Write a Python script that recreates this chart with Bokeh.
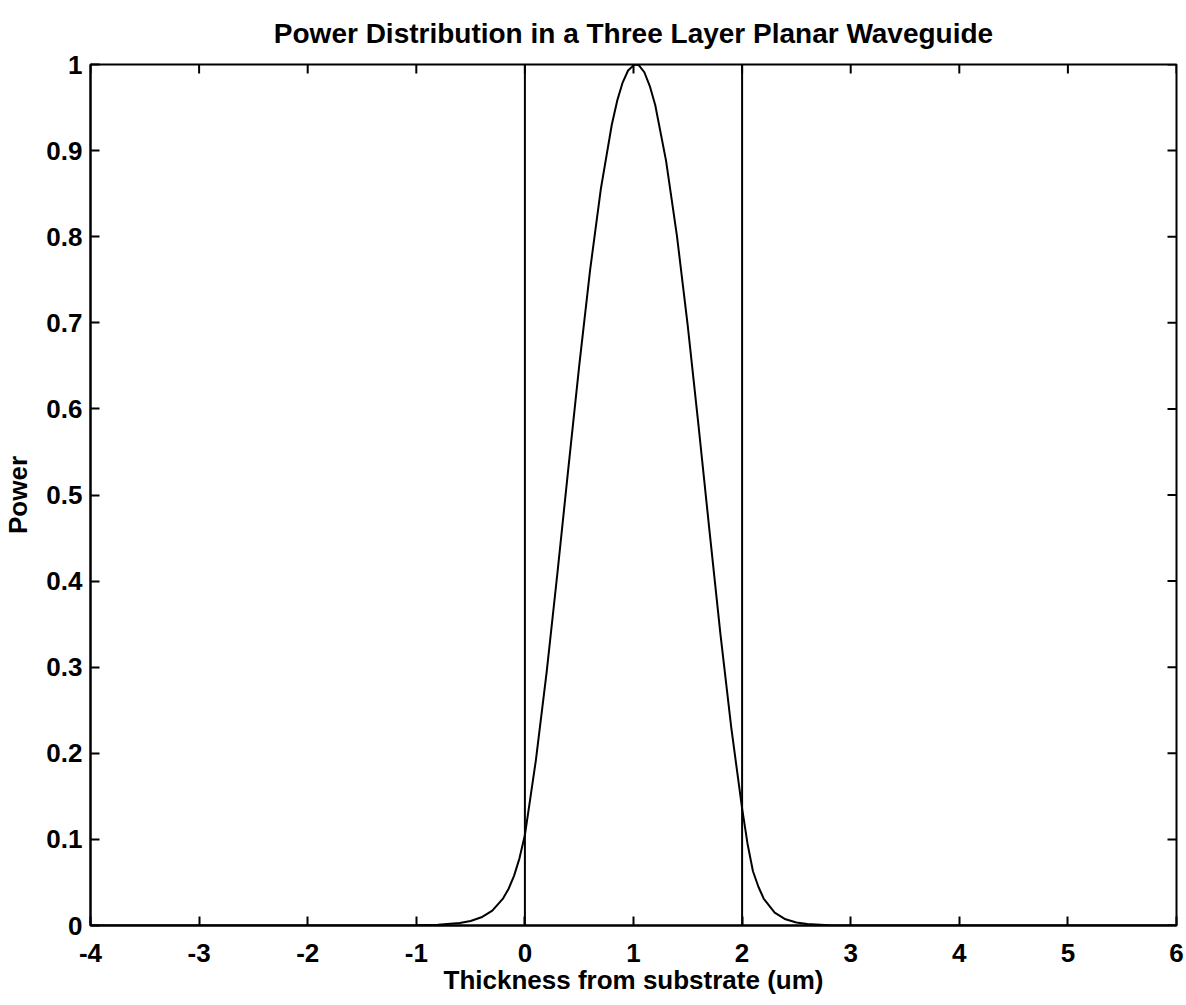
from bokeh.plotting import figure
from bokeh.models import FixedTicker, Range1d
from bokeh.embed import file_html
from bokeh.resources import INLINE
import math

# Data
thickness = [-4.0, -3.0, -2.0, -1.5, -1.0, -0.8, -0.6, -0.5, -0.4, -0.3, -0.2, -0.15, -0.1, -0.05,
             0.0, 0.1, 0.2, 0.3, 0.4, 0.5, 0.6, 0.7, 0.8, 0.85, 0.9, 0.95, 1.0, 1.02, 1.05, 1.1, 1.15,
             1.2, 1.3, 1.4, 1.5, 1.6, 1.7, 1.8, 1.9, 2.0, 2.05, 2.1, 2.15, 2.2, 2.3, 2.4, 2.5, 2.6,
             2.8, 3.0, 3.5, 4.0, 5.0, 6.0]
power = [0.0, 0.0, 0.0, 0.0, 0.0003, 0.0009, 0.0029, 0.0052, 0.0095, 0.0173, 0.0316, 0.0427, 0.0576, 0.078,
         0.105, 0.191, 0.294, 0.410, 0.531, 0.650, 0.761, 0.856, 0.930, 0.958, 0.979, 0.993, 0.999, 1.0, 0.999,
         0.991, 0.975, 0.953, 0.888, 0.801, 0.696, 0.579, 0.458, 0.339, 0.230, 0.136, 0.095, 0.063, 0.045,
         0.031, 0.015, 0.0072, 0.0035, 0.0017, 0.0004, 0.0001, 0.0, 0.0, 0.0, 0.0]
boundaries = [0.0, 2.0]
x_ticks = [-4, -3, -2, -1, 0, 1, 2, 3, 4, 5, 6]
x_tick_labels = ["-4", "-3", "-2", "-1", "0", "1", "2", "3", "4", "5", "6"]
y_ticks = [0, 0.1, 0.2, 0.3, 0.4, 0.5, 0.6, 0.7, 0.8, 0.9, 1.0]
y_tick_labels = ["0", "0.1", "0.2", "0.3", "0.4", "0.5", "0.6", "0.7", "0.8", "0.9", "1"]

FONT = "Liberation Sans"

p = figure(width=1186, height=1005, output_backend="svg", toolbar_location=None,
           x_range=Range1d(x_ticks[0], x_ticks[-1]), y_range=Range1d(y_ticks[0], y_ticks[-1]),
           title="Power Distribution in a Three Layer Planar Waveguide",
           min_border_left=90, min_border_right=10, min_border_top=63, min_border_bottom=80)

p.title.align = "center"
p.title.text_font = FONT
p.title.text_font_size = "28px"
p.title.text_font_style = "bold"
p.title.text_color = "black"
p.title.standoff = 31

p.grid.visible = False
p.outline_line_color = "black"
p.outline_line_width = 2
p.background_fill_color = "white"
p.border_fill_color = "white"

p.line(thickness, power, line_color="black", line_width=2)
for b in boundaries:
    p.line([b, b], [y_ticks[0], y_ticks[-1]], line_color="black", line_width=2)

# ticks on the top and right edges (inside), MATLAB style
p.ray(x=x_ticks, y=[y_ticks[-1]] * len(x_ticks), length=9, length_units="screen",
      angle=-math.pi / 2, line_color="black", line_width=2)
p.ray(x=[x_ticks[-1]] * len(y_ticks), y=y_ticks, length=9, length_units="screen",
      angle=math.pi, line_color="black", line_width=2)

xa = p.xaxis[0]
xa.ticker = FixedTicker(ticks=x_ticks)
xa.major_label_overrides = {t: l for t, l in zip(x_ticks, x_tick_labels)}
xa.axis_label = "Thickness from substrate (um)"
ya = p.yaxis[0]
ya.ticker = FixedTicker(ticks=y_ticks)
ya.major_label_overrides = {t: l for t, l in zip(y_ticks, y_tick_labels)}
ya.axis_label = "Power"

for ax in (xa, ya):
    ax.major_tick_in = 9
    ax.major_tick_out = 0
    ax.minor_tick_in = 0
    ax.minor_tick_out = 0
    ax.axis_line_color = "black"
    ax.axis_line_width = 2
    ax.major_tick_line_color = "black"
    ax.major_tick_line_width = 2
    ax.major_label_text_font = FONT
    ax.major_label_text_font_size = "26px"
    ax.major_label_text_font_style = "bold"
    ax.major_label_text_color = "black"
    ax.axis_label_text_font = FONT
    ax.axis_label_text_font_size = "26px"
    ax.axis_label_text_font_style = "bold"
    ax.axis_label_text_color = "black"

xa.major_label_standoff = 18
xa.axis_label_standoff = 0
ya.major_label_standoff = 8
ya.axis_label_standoff = 10

open("out.html", "w").write(file_html(p, INLINE))
